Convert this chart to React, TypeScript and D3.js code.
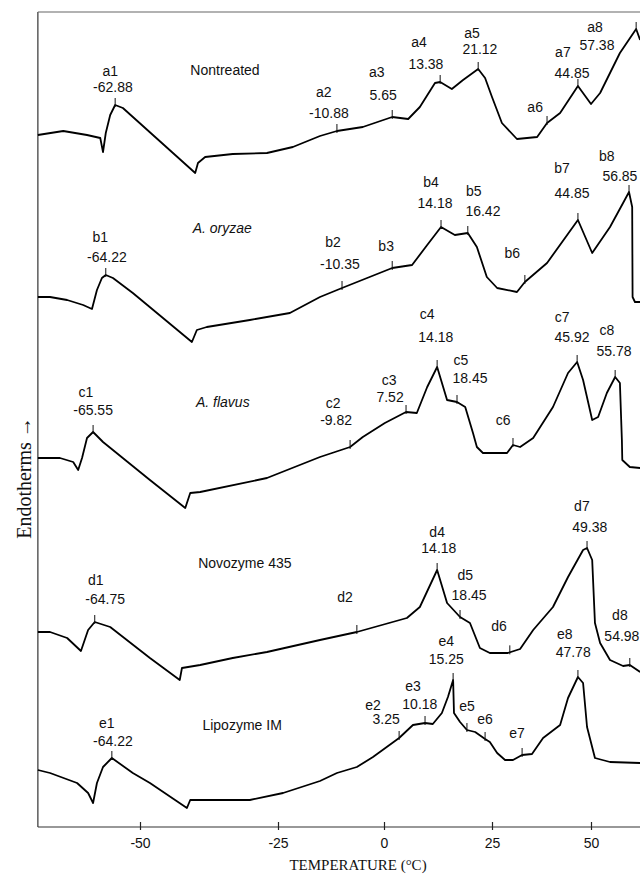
import * as d3 from 'd3';
import React, { useEffect, useRef } from 'react';

// Scanned DSC plot: the temperature axis is unevenly spaced, so the x scale is piecewise
const tempTicks = [-50, -25, 0, 25, 50];
const tempExtent = [-68.5, 62.4];

// Thermograms: [temperature °C, relative heat flow (stacked, arbitrary units)]
const nontreated: [number, number][] = [
    [-68.5, 69.2], [-63.9, 69.6], [-59.6, 69.2], [-57.2, 68.9], [-56.7, 67.5], [-56.2, 69.4],
    [-55.4, 71.2], [-54.5, 72.2], [-53.1, 71.9], [-40.0, 65.4], [-39.5, 66.4], [-38.2, 67.0],
    [-33.2, 67.3], [-27.0, 67.4], [-21.5, 68.0], [-15.1, 69.1], [-11.1, 69.6], [-5.0, 70.0],
    [1.9, 71.0], [5.6, 70.8], [8.3, 72.0], [11.8, 74.4], [13.0, 74.5], [15.7, 73.8],
    [18.3, 74.7], [21.8, 75.8], [23.4, 74.9], [25.0, 73.0], [27.5, 70.4], [31.3, 68.8],
    [36.4, 69.0], [38.9, 70.4], [42.2, 71.4], [46.7, 74.1], [50.0, 72.3], [52.3, 73.4],
    [57.3, 77.4], [61.4, 79.8], [62.4, 78.7],
];
const oryzae: [number, number][] = [
    [-68.5, 53.0], [-66.3, 53.0], [-63.2, 52.7], [-60.3, 52.2], [-58.7, 51.8], [-57.8, 53.7],
    [-56.9, 54.9], [-56.2, 55.2], [-54.9, 54.9], [-51.3, 53.4], [-40.6, 48.5], [-39.7, 49.7],
    [-37.9, 50.0], [-30.1, 50.7], [-22.2, 51.4], [-15.1, 53.0], [-9.9, 53.9], [1.9, 55.9],
    [6.5, 56.2], [10.0, 58.2], [13.2, 60.0], [16.4, 59.2], [19.4, 59.4], [21.5, 58.0],
    [23.8, 55.0], [26.3, 53.9], [31.3, 53.5], [33.3, 54.5], [38.9, 56.4], [46.7, 60.7],
    [50.3, 57.4], [54.8, 60.0], [58.1, 62.4], [59.6, 63.5], [60.4, 62.0], [60.5, 53.0],
    [61.1, 52.5], [62.4, 52.5],
];
const flavus: [number, number][] = [
    [-68.5, 36.9], [-64.5, 36.9], [-62.1, 36.5], [-61.2, 35.7], [-60.5, 36.9], [-59.6, 38.9],
    [-58.5, 39.5], [-56.7, 38.5], [-48.2, 34.7], [-41.8, 31.9], [-40.9, 33.4], [-39.1, 33.5],
    [-27.0, 34.9], [-15.1, 37.0], [-8.0, 38.0], [-5.0, 39.0], [0.2, 40.4], [5.1, 41.5],
    [7.6, 41.4], [10.0, 44.0], [12.3, 46.0], [14.6, 42.7], [16.9, 42.5], [18.8, 42.0],
    [20.6, 39.4], [21.5, 38.0], [22.9, 37.4], [28.8, 37.4], [30.3, 38.2], [32.1, 38.0],
    [35.4, 38.9], [40.4, 42.0], [44.2, 45.4], [46.5, 46.5], [48.0, 44.7], [50.3, 40.7],
    [51.8, 41.0], [54.0, 43.4], [56.1, 45.0], [57.3, 44.4], [57.8, 38.7], [57.9, 36.7],
    [59.8, 36.0], [62.4, 35.9],
];
const novozyme: [number, number][] = [
    [-68.5, 19.5], [-66.3, 19.5], [-63.2, 18.9], [-60.7, 17.6], [-59.4, 19.7], [-58.2, 20.5],
    [-55.4, 20.0], [-48.2, 16.9], [-42.8, 14.7], [-42.4, 15.9], [-39.1, 16.2], [-33.2, 16.9],
    [-27.0, 17.5], [-15.1, 18.7], [-6.4, 19.5], [5.3, 20.9], [8.3, 22.0], [12.3, 25.7],
    [14.6, 22.4], [17.6, 21.0], [19.9, 20.4], [22.2, 17.9], [24.5, 17.4], [29.0, 17.4],
    [32.1, 17.8], [35.4, 19.7], [40.4, 22.0], [44.2, 25.0], [48.0, 27.7], [49.0, 27.9],
    [50.3, 26.7], [51.0, 20.4], [52.3, 18.4], [54.8, 16.7], [58.1, 16.1], [59.8, 16.2],
    [62.4, 15.5],
];
const lipozyme: [number, number][] = [
    [-68.5, 5.7], [-66.3, 5.4], [-61.4, 4.4], [-59.4, 3.4], [-58.5, 2.4], [-57.8, 4.4],
    [-56.7, 6.0], [-55.1, 6.9], [-51.3, 5.4], [-48.2, 4.4], [-41.5, 1.9], [-40.9, 2.7],
    [-38.6, 2.7], [-30.1, 2.7], [-23.8, 3.4], [-15.1, 4.6], [-11.1, 5.4], [-6.4, 6.0],
    [-2.6, 7.0], [3.5, 8.9], [6.7, 10.2], [9.5, 10.4], [11.3, 10.3], [13.4, 11.4],
    [14.8, 13.0], [16.0, 14.7], [16.2, 11.4], [17.6, 10.5], [19.2, 9.7], [21.1, 9.5],
    [23.4, 8.8], [24.5, 8.5], [26.3, 7.4], [28.3, 6.7], [30.3, 6.7], [32.6, 7.2],
    [35.1, 7.3], [37.9, 8.9], [42.2, 10.2], [44.2, 12.9], [46.7, 15.0], [48.0, 14.4],
    [49.0, 10.0], [51.0, 6.9], [54.8, 6.5], [62.4, 6.4],
];

// Peak marks: name, reported temperature, marked position t, label anchors (temperature, height)
type Peak = { name: string; value?: string; t: number; nt: number; ny: number; vt?: number; vy?: number };

const nontreatedPeaks: Peak[] = [
    { name: 'a1', value: '-62.88', t: -54.5, nt: -55.4, ny: 75.6, vt: -54.9, vy: 74.0 },
    { name: 'a2', value: '-10.88', t: -11.1, nt: -14.2, ny: 73.5, vt: -13.0, vy: 71.4 },
    { name: 'a3', value: '5.65', t: 1.9, nt: -1.7, ny: 75.5, vt: -0.2, vy: 73.2 },
    { name: 'a4', value: '13.38', t: 13.0, nt: 8.1, ny: 78.5, vt: 9.7, vy: 76.3 },
    { name: 'a5', value: '21.12', t: 21.8, nt: 20.4, ny: 79.4, vt: 22.2, vy: 77.8 },
    { name: 'a6', t: 38.9, nt: 35.9, ny: 72.0 },
    { name: 'a7', value: '44.85', t: 46.7, nt: 42.9, ny: 77.5, vt: 45.2, vy: 75.4 },
    { name: 'a8', value: '57.38', t: 61.4, nt: 51.0, ny: 80.0, vt: 51.5, vy: 78.2 },
];
const oryzaePeaks: Peak[] = [
    { name: 'b1', value: '-64.22', t: -56.2, nt: -57.2, ny: 59.0, vt: -56.0, vy: 57.0 },
    { name: 'b2', value: '-10.35', t: -9.9, nt: -12.0, ny: 58.5, vt: -10.4, vy: 56.3 },
    { name: 'b3', t: 1.9, nt: 0.5, ny: 58.1 },
    { name: 'b4', value: '14.18', t: 13.2, nt: 10.9, ny: 64.5, vt: 11.8, vy: 62.4 },
    { name: 'b5', value: '16.42', t: 19.4, nt: 20.8, ny: 63.6, vt: 22.9, vy: 61.6 },
    { name: 'b6', t: 33.3, nt: 30.1, ny: 57.4 },
    { name: 'b7', value: '44.85', t: 46.7, nt: 42.7, ny: 65.9, vt: 45.2, vy: 63.4 },
    { name: 'b8', value: '56.85', t: 59.6, nt: 54.0, ny: 67.1, vt: 57.3, vy: 65.1 },
];
const flavusPeaks: Peak[] = [
    { name: 'c1', value: '-65.55', t: -58.5, nt: -59.8, ny: 43.5, vt: -58.5, vy: 41.7 },
    { name: 'c2', value: '-9.82', t: -8.0, nt: -12.0, ny: 42.4, vt: -11.3, vy: 40.7 },
    { name: 'c3', value: '7.52', t: 5.1, nt: 1.2, ny: 44.7, vt: 1.4, vy: 43.0 },
    { name: 'c4', value: '14.18', t: 12.3, nt: 10.0, ny: 51.3, vt: 12.0, vy: 49.0 },
    { name: 'c5', value: '18.45', t: 16.9, nt: 17.8, ny: 46.7, vt: 19.9, vy: 44.9 },
    { name: 'c6', t: 30.3, nt: 27.8, ny: 40.7 },
    { name: 'c7', value: '45.92', t: 46.5, nt: 42.7, ny: 51.0, vt: 45.2, vy: 49.0 },
    { name: 'c8', value: '55.78', t: 56.1, nt: 54.0, ny: 49.7, vt: 55.8, vy: 47.6 },
];
const novozymePeaks: Peak[] = [
    { name: 'd1', value: '-64.75', t: -58.2, nt: -58.0, ny: 24.7, vt: -56.3, vy: 22.8 },
    { name: 'd2', t: -6.4, nt: -9.2, ny: 23.0 },
    { name: 'd4', value: '14.18', t: 12.3, nt: 12.3, ny: 29.5, vt: 12.7, vy: 27.9 },
    { name: 'd5', value: '18.45', t: 17.6, nt: 18.8, ny: 25.2, vt: 19.7, vy: 23.2 },
    { name: 'd6', t: 29.5, nt: 26.8, ny: 20.1 },
    { name: 'd7', value: '49.38', t: 49.0, nt: 47.7, ny: 32.1, vt: 49.7, vy: 30.0 },
    { name: 'd8', value: '54.98', t: 59.8, nt: 57.3, ny: 21.2, vt: 57.8, vy: 19.1 },
];
const lipozymePeaks: Peak[] = [
    { name: 'e1', value: '-64.22', t: -55.1, nt: -56.0, ny: 10.4, vt: -54.9, vy: 8.6 },
    { name: 'e2', value: '3.25', t: 3.5, nt: -2.6, ny: 12.2, vt: 0.5, vy: 10.8 },
    { name: 'e3', value: '10.18', t: 9.5, nt: 6.7, ny: 14.1, vt: 8.3, vy: 12.3 },
    { name: 'e4', value: '15.25', t: 16.0, nt: 14.4, ny: 18.6, vt: 14.4, vy: 16.8 },
    { name: 'e5', t: 19.2, nt: 19.2, ny: 12.1 },
    { name: 'e6', t: 23.4, nt: 23.4, ny: 10.8 },
    { name: 'e7', t: 32.6, nt: 31.3, ny: 9.4 },
    { name: 'e8', value: '47.78', t: 46.7, nt: 43.4, ny: 19.3, vt: 45.5, vy: 17.5 },
];

const seriesNames = ['Nontreated', 'A. oryzae', 'A. flavus', 'Novozyme 435', 'Lipozyme IM'];
const seriesItalic = [false, true, true, false, false];
const seriesTitlePos = [[-34.6, 75.7], [-35.1, 59.9], [-35.0, 42.5], [-31.0, 26.4], [-31.5, 10.2]];
const seriesData = [nontreated, oryzae, flavus, novozyme, lipozyme];
const seriesPeaks = [nontreatedPeaks, oryzaePeaks, flavusPeaks, novozymePeaks, lipozymePeaks];

const sans = 'Liberation Sans, Arial, sans-serif';
const serif = 'Liberation Serif, Times New Roman, serif';

// value of a curve at temperature t (linear between read points)
function valueAt(data: [number, number][], t: number) {
    for (let i = 0; i < data.length - 1; i++) {
        const [t0, v0] = data[i];
        const [t1, v1] = data[i + 1];
        if (t >= t0 && t <= t1) {
            return t1 === t0 ? v0 : v0 + (v1 - v0) * (t - t0) / (t1 - t0);
        }
    }
    return data[data.length - 1][1];
}

function App() {
    const chartRef = useRef<SVGSVGElement>(null);

    useEffect(() => {
        const width = 640;
        const height = 875;
        const margin = { top: 12, bottom: 48 };

        const svg = d3.select(chartRef.current);
        svg.selectAll('*').remove();
        svg.attr('width', width).attr('height', height).style('background', 'white');

        const x = d3.scaleLinear().domain(tempTicks).range([140, 278, 384, 492, 591]);
        const y = d3.scaleLinear().domain([0, 81.5]).range([height - margin.bottom, margin.top]);

        const left = x(tempExtent[0]);
        const right = x(tempExtent[1]);

        // frame
        svg.append('line').attr('x1', left).attr('x2', left).attr('y1', y(81.5)).attr('y2', y(0))
            .attr('stroke', '#333').attr('stroke-width', 1.2);
        svg.append('line').attr('x1', left).attr('x2', right).attr('y1', y(81.5)).attr('y2', y(81.5))
            .attr('stroke', '#666').attr('stroke-width', 1.2);
        svg.append('line').attr('x1', left).attr('x2', right).attr('y1', y(0)).attr('y2', y(0))
            .attr('stroke', '#333').attr('stroke-width', 1.2);

        // x axis
        const axis = svg.append('g')
            .attr('transform', `translate(0,${y(0)})`)
            .call(d3.axisBottom(x).tickValues(tempTicks).tickSize(3).tickFormat((d) => String(d)));
        axis.select('.domain').remove();
        axis.selectAll('.tick line').attr('y1', -5).attr('y2', 3).attr('stroke', '#222').attr('stroke-width', 1.2);
        axis.selectAll('.tick text').attr('y', 11).attr('fill', '#111')
            .attr('font-family', sans).attr('font-size', 14);

        svg.append('text')
            .attr('x', 358).attr('y', 870)
            .attr('text-anchor', 'middle')
            .attr('font-family', serif).attr('font-size', 15).attr('fill', '#111')
            .text('TEMPERATURE (°C)');

        svg.append('text')
            .attr('transform', 'translate(31,478) rotate(-90)')
            .attr('text-anchor', 'middle')
            .attr('font-family', serif).attr('font-size', 20).attr('fill', '#111')
            .text('Endotherms →');

        const line = d3.line<[number, number]>()
            .x((d) => x(d[0]))
            .y((d) => y(d[1]));

        seriesData.forEach((data, i) => {
            svg.append('path')
                .datum(data)
                .attr('fill', 'none')
                .attr('stroke', '#000')
                .attr('stroke-width', 1.8)
                .attr('stroke-linejoin', 'round')
                .attr('d', line);

            const [tt, tv] = seriesTitlePos[i];
            svg.append('text')
                .attr('x', x(tt)).attr('y', y(tv)).attr('dy', '0.35em')
                .attr('text-anchor', 'middle')
                .attr('font-family', sans).attr('font-size', 14).attr('fill', '#111')
                .attr('font-style', seriesItalic[i] ? 'italic' : 'normal')
                .text(seriesNames[i]);

            seriesPeaks[i].forEach((p) => {
                const py = y(valueAt(data, p.t));
                svg.append('line')
                    .attr('x1', x(p.t)).attr('x2', x(p.t))
                    .attr('y1', py - 7).attr('y2', py + 2)
                    .attr('stroke', '#111').attr('stroke-width', 1);
                svg.append('text')
                    .attr('x', x(p.nt)).attr('y', y(p.ny)).attr('dy', '0.35em')
                    .attr('text-anchor', 'middle')
                    .attr('font-family', sans).attr('font-size', 14).attr('fill', '#111')
                    .text(p.name);
                if (p.value) {
                    svg.append('text')
                        .attr('x', x(p.vt as number)).attr('y', y(p.vy as number)).attr('dy', '0.35em')
                        .attr('text-anchor', 'middle')
                        .attr('font-family', sans).attr('font-size', 14).attr('fill', '#111')
                        .text(p.value);
                }
            });
        });
    }, []);

    return (
        <div style={{ position: 'absolute', left: 0, top: 0 }}>
            <svg ref={chartRef} />
        </div>
    );
}

export default App;
